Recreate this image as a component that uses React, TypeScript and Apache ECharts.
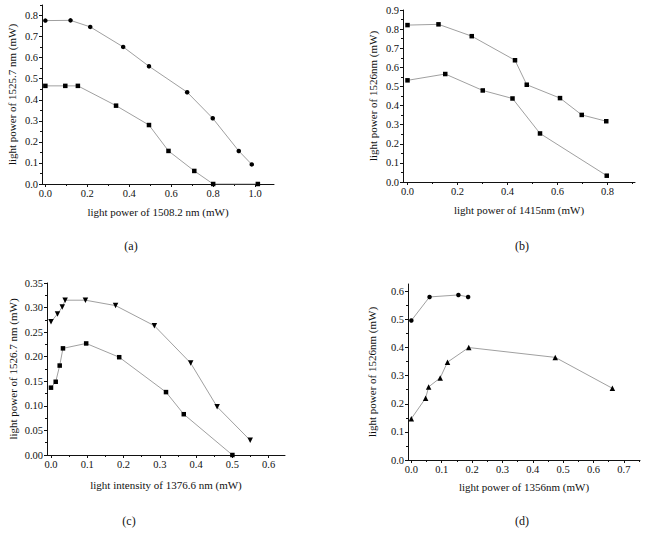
import React, { useEffect, useRef } from "react";
import * as echarts from "echarts";

// Panel (a): output at 1525.7 nm vs. pump at 1508.2 nm
const aUpper: [number, number][] = [
  [0, 0.776], [0.12, 0.777], [0.214, 0.746], [0.371, 0.651], [0.494, 0.559],
  [0.676, 0.436], [0.798, 0.312], [0.922, 0.157], [0.984, 0.093],
];
const aLower: [number, number][] = [
  [0, 0.466], [0.095, 0.466], [0.155, 0.466], [0.337, 0.372], [0.494, 0.28],
  [0.587, 0.157], [0.71, 0.062], [0.8, 0.0], [1.013, 0.0],
];

// Panel (b): output at 1526 nm vs. pump at 1415 nm
const bUpper: [number, number][] = [
  [0, 0.821], [0.124, 0.825], [0.257, 0.763], [0.43, 0.637], [0.477, 0.509],
  [0.61, 0.439], [0.697, 0.351], [0.795, 0.318],
];
const bLower: [number, number][] = [
  [0, 0.532], [0.151, 0.565], [0.301, 0.479], [0.42, 0.437], [0.53, 0.254],
  [0.797, 0.033],
];

// Panel (c): output at 1526.7 nm vs. intensity at 1376.6 nm
const cUpper: [number, number][] = [
  [0, 0.271], [0.018, 0.287], [0.031, 0.301], [0.039, 0.315], [0.095, 0.315],
  [0.178, 0.304], [0.285, 0.263], [0.385, 0.187], [0.458, 0.098], [0.549, 0.03],
];
const cLower: [number, number][] = [
  [0, 0.137], [0.013, 0.149], [0.024, 0.182], [0.033, 0.217], [0.097, 0.227],
  [0.188, 0.199], [0.317, 0.128], [0.366, 0.083], [0.5, 0.0],
];

// Panel (d): output at 1526 nm vs. pump at 1356 nm
const dUpper: [number, number][] = [
  [0, 0.496], [0.06, 0.58], [0.155, 0.587], [0.187, 0.58],
];
const dLower: [number, number][] = [
  [0, 0.147], [0.047, 0.22], [0.057, 0.26], [0.095, 0.292], [0.119, 0.348],
  [0.189, 0.4], [0.474, 0.365], [0.662, 0.255],
];

// Tick labels (major) and minor tick positions
const aXTicks = [0, 0.2, 0.4, 0.6, 0.8, 1.0];
const aXMinor = [0.1, 0.3, 0.5, 0.7, 0.9];
const aYTicks = [0, 0.1, 0.2, 0.3, 0.4, 0.5, 0.6, 0.7, 0.8];
const aYMinor = [0.05, 0.15, 0.25, 0.35, 0.45, 0.55, 0.65, 0.75, 0.85];

const bXTicks = [0, 0.2, 0.4, 0.6, 0.8];
const bXMinor = [0.1, 0.3, 0.5, 0.7, 0.9];
const bYTicks = [0, 0.1, 0.2, 0.3, 0.4, 0.5, 0.6, 0.7, 0.8, 0.9];
const bYMinor = [0.05, 0.15, 0.25, 0.35, 0.45, 0.55, 0.65, 0.75, 0.85];

const cXTicks = [0, 0.1, 0.2, 0.3, 0.4, 0.5, 0.6];
const cXMinor = [0.05, 0.15, 0.25, 0.35, 0.45, 0.55];
const cYTicks = [0, 0.05, 0.1, 0.15, 0.2, 0.25, 0.3, 0.35];
const cYMinor = [0.025, 0.075, 0.125, 0.175, 0.225, 0.275, 0.325];

const dXTicks = [0, 0.1, 0.2, 0.3, 0.4, 0.5, 0.6, 0.7];
const dXMinor = [0.05, 0.15, 0.25, 0.35, 0.45, 0.55, 0.65, 0.75];
const dYTicks = [0, 0.1, 0.2, 0.3, 0.4, 0.5, 0.6];
const dYMinor = [0.05, 0.15, 0.25, 0.35, 0.45, 0.55];

const FONT = "'Liberation Serif', 'Times New Roman', serif";
const LINE_GRAY = "#a0a0a0";

type Panel = {
  grid: { left: number; top: number; width: number; height: number };
  xRange: [number, number];
  yRange: [number, number];
  xTicks: number[];
  xMinor: number[];
  yTicks: number[];
  yMinor: number[];
  xDigits: number;
  yDigits: number;
  xName: string;
  yName: string;
  xGap: number;
  yGap: number;
  series: { data: [number, number][]; symbol: string; size: number; rotate?: number }[];
};

const panels: Panel[] = [
  {
    grid: { left: 42, top: 5, width: 232, height: 179 },
    xRange: [-0.016, 1.09],
    yRange: [0, 0.85],
    xTicks: aXTicks, xMinor: aXMinor, yTicks: aYTicks, yMinor: aYMinor,
    xDigits: 1, yDigits: 1,
    xName: "light power of 1508.2 nm (mW)",
    yName: "light power of 1525.7 nm (mW)",
    xGap: 22, yGap: 25,
    series: [
      { data: aUpper, symbol: "circle", size: 4.5 },
      { data: aLower, symbol: "rect", size: 4.5 },
    ],
  },
  {
    grid: { left: 403, top: 10, width: 232, height: 172 },
    xRange: [-0.018, 0.91],
    yRange: [0, 0.9],
    xTicks: bXTicks, xMinor: bXMinor, yTicks: bYTicks, yMinor: bYMinor,
    xDigits: 1, yDigits: 1,
    xName: "light power of 1415nm (mW)",
    yName: "light power of 1526nm (mW)",
    xGap: 22, yGap: 25,
    series: [
      { data: bUpper, symbol: "rect", size: 4.5 },
      { data: bLower, symbol: "rect", size: 4.5 },
    ],
  },
  {
    grid: { left: 47, top: 283, width: 238, height: 172 },
    xRange: [-0.011, 0.645],
    yRange: [0, 0.35],
    xTicks: cXTicks, xMinor: cXMinor, yTicks: cYTicks, yMinor: cYMinor,
    xDigits: 1, yDigits: 2,
    xName: "light intensity of 1376.6 nm (mW)",
    yName: "light power of 1526.7 nm (mW)",
    xGap: 24, yGap: 29,
    series: [
      { data: cUpper, symbol: "triangle", size: 5.5, rotate: 180 },
      { data: cLower, symbol: "rect", size: 4.5 },
    ],
  },
  {
    grid: { left: 408, top: 284, width: 232, height: 176 },
    xRange: [-0.011, 0.753],
    yRange: [0, 0.626],
    xTicks: dXTicks, xMinor: dXMinor, yTicks: dYTicks, yMinor: dYMinor,
    xDigits: 1, yDigits: 1,
    xName: "light power of 1356nm (mW)",
    yName: "light power of 1526nm (mW)",
    xGap: 21, yGap: 31,
    series: [
      { data: dUpper, symbol: "circle", size: 4.5 },
      { data: dLower, symbol: "triangle", size: 5.5 },
    ],
  },
];

const panelLabels = [
  { text: "(a)", x: 131, y: 246 },
  { text: "(b)", x: 522, y: 246 },
  { text: "(c)", x: 129, y: 521 },
  { text: "(d)", x: 522, y: 521 },
];

function buildOption(): echarts.EChartsOption {
  const grid: any[] = [];
  const xAxis: any[] = [];
  const yAxis: any[] = [];
  const series: any[] = [];

  panels.forEach((p, i) => {
    grid.push({ ...p.grid, containLabel: false });
    const xMain = xAxis.length;
    xAxis.push({
      type: "value",
      gridIndex: i,
      position: "bottom",
      min: p.xRange[0],
      max: p.xRange[1],
      name: p.xName,
      nameLocation: "middle",
      nameGap: p.xGap,
      nameTextStyle: { fontFamily: FONT, fontSize: 11, color: "#111", verticalAlign: "top" },
      axisLine: { show: true, onZero: false, lineStyle: { color: "#111", width: 1 } },
      axisTick: { show: true, length: 3, customValues: p.xTicks, lineStyle: { color: "#111" } },
      axisLabel: {
        customValues: p.xTicks,
        margin: 4,
        fontFamily: FONT,
        fontSize: 10.5,
        color: "#111",
        formatter: (v: number) => v.toFixed(p.xDigits),
      },
      splitLine: { show: false },
    });
    xAxis.push({
      type: "value",
      gridIndex: i,
      position: "bottom",
      min: p.xRange[0],
      max: p.xRange[1],
      axisLine: { show: false, onZero: false },
      axisTick: { show: true, length: 2, customValues: p.xMinor, lineStyle: { color: "#111" } },
      axisLabel: { show: false },
      splitLine: { show: false },
    });
    const yMain = yAxis.length;
    yAxis.push({
      type: "value",
      gridIndex: i,
      position: "left",
      min: p.yRange[0],
      max: p.yRange[1],
      name: p.yName,
      nameLocation: "middle",
      nameGap: p.yGap,
      nameTextStyle: { fontFamily: FONT, fontSize: 11, color: "#111" },
      axisLine: { show: true, onZero: false, lineStyle: { color: "#111", width: 1 } },
      axisTick: { show: true, length: 3, customValues: p.yTicks, lineStyle: { color: "#111" } },
      axisLabel: {
        customValues: p.yTicks,
        margin: 4,
        fontFamily: FONT,
        fontSize: 10.5,
        color: "#111",
        formatter: (v: number) => v.toFixed(p.yDigits),
      },
      splitLine: { show: false },
    });
    yAxis.push({
      type: "value",
      gridIndex: i,
      position: "left",
      min: p.yRange[0],
      max: p.yRange[1],
      axisLine: { show: false, onZero: false },
      axisTick: { show: true, length: 2, customValues: p.yMinor, lineStyle: { color: "#111" } },
      axisLabel: { show: false },
      splitLine: { show: false },
    });

    p.series.forEach((s) => {
      series.push({
        type: "line",
        xAxisIndex: xMain,
        yAxisIndex: yMain,
        data: s.data,
        symbol: s.symbol,
        symbolSize: s.size,
        symbolRotate: s.rotate ?? 0,
        showSymbol: true,
        lineStyle: { color: LINE_GRAY, width: 1 },
        itemStyle: { color: "#000", borderWidth: 0 },
        z: 3,
      });
    });
  });

  return {
    animation: false,
    backgroundColor: "#ffffff",
    grid,
    xAxis,
    yAxis,
    series,
    graphic: panelLabels.map((l) => ({
      type: "text",
      x: l.x,
      y: l.y,
      style: {
        text: l.text,
        fontFamily: FONT,
        fontSize: 12,
        fill: "#111",
        align: "center",
        verticalAlign: "middle",
      },
    })),
  };
}

export default function App() {
  const ref = useRef<HTMLDivElement>(null);

  useEffect(() => {
    if (!ref.current) return;
    const chart = echarts.init(ref.current, undefined, { renderer: "svg" });
    chart.setOption(buildOption());
    return () => chart.dispose();
  }, []);

  return (
    <div
      ref={ref}
      style={{ position: "fixed", left: 0, top: 0, width: 645, height: 541, background: "#fff" }}
    />
  );
}
